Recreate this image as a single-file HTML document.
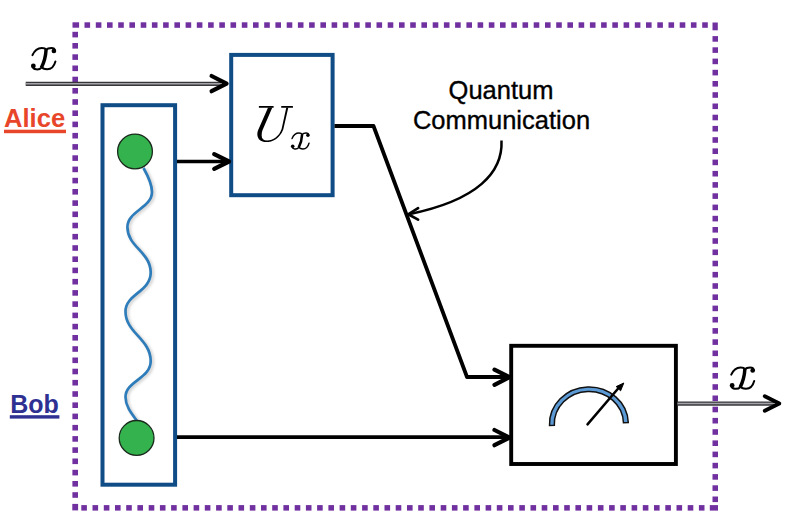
<!DOCTYPE html>
<html><head><meta charset="utf-8"><style>
html,body{margin:0;padding:0;background:#fff;width:808px;height:522px;overflow:hidden}
svg{display:block}
</style></head><body>
<svg width="808" height="522" viewBox="0 0 808 522">
<defs>
<filter id="sh" x="-50%" y="-10%" width="200%" height="120%"><feGaussianBlur stdDeviation="1.6"/></filter>
</defs>
<g>
<g fill="#7030A0"><rect x="84.5" y="22.3" width="5.6" height="5.5"/><rect x="95.8" y="22.3" width="5.6" height="5.5"/><rect x="107.0" y="22.3" width="5.6" height="5.5"/><rect x="118.2" y="22.3" width="5.6" height="5.5"/><rect x="129.4" y="22.3" width="5.6" height="5.5"/><rect x="140.7" y="22.3" width="5.6" height="5.5"/><rect x="151.9" y="22.3" width="5.6" height="5.5"/><rect x="163.1" y="22.3" width="5.6" height="5.5"/><rect x="174.4" y="22.3" width="5.6" height="5.5"/><rect x="185.6" y="22.3" width="5.6" height="5.5"/><rect x="196.8" y="22.3" width="5.6" height="5.5"/><rect x="208.1" y="22.3" width="5.6" height="5.5"/><rect x="219.3" y="22.3" width="5.6" height="5.5"/><rect x="230.5" y="22.3" width="5.6" height="5.5"/><rect x="241.8" y="22.3" width="5.6" height="5.5"/><rect x="253.0" y="22.3" width="5.6" height="5.5"/><rect x="264.2" y="22.3" width="5.6" height="5.5"/><rect x="275.4" y="22.3" width="5.6" height="5.5"/><rect x="286.7" y="22.3" width="5.6" height="5.5"/><rect x="297.9" y="22.3" width="5.6" height="5.5"/><rect x="309.1" y="22.3" width="5.6" height="5.5"/><rect x="320.4" y="22.3" width="5.6" height="5.5"/><rect x="331.6" y="22.3" width="5.6" height="5.5"/><rect x="342.8" y="22.3" width="5.6" height="5.5"/><rect x="354.1" y="22.3" width="5.6" height="5.5"/><rect x="365.3" y="22.3" width="5.6" height="5.5"/><rect x="376.5" y="22.3" width="5.6" height="5.5"/><rect x="387.7" y="22.3" width="5.6" height="5.5"/><rect x="399.0" y="22.3" width="5.6" height="5.5"/><rect x="410.2" y="22.3" width="5.6" height="5.5"/><rect x="421.4" y="22.3" width="5.6" height="5.5"/><rect x="432.7" y="22.3" width="5.6" height="5.5"/><rect x="443.9" y="22.3" width="5.6" height="5.5"/><rect x="455.1" y="22.3" width="5.6" height="5.5"/><rect x="466.4" y="22.3" width="5.6" height="5.5"/><rect x="477.6" y="22.3" width="5.6" height="5.5"/><rect x="488.8" y="22.3" width="5.6" height="5.5"/><rect x="500.0" y="22.3" width="5.6" height="5.5"/><rect x="511.3" y="22.3" width="5.6" height="5.5"/><rect x="522.5" y="22.3" width="5.6" height="5.5"/><rect x="533.7" y="22.3" width="5.6" height="5.5"/><rect x="545.0" y="22.3" width="5.6" height="5.5"/><rect x="556.2" y="22.3" width="5.6" height="5.5"/><rect x="567.4" y="22.3" width="5.6" height="5.5"/><rect x="578.6" y="22.3" width="5.6" height="5.5"/><rect x="589.9" y="22.3" width="5.6" height="5.5"/><rect x="601.1" y="22.3" width="5.6" height="5.5"/><rect x="612.3" y="22.3" width="5.6" height="5.5"/><rect x="623.6" y="22.3" width="5.6" height="5.5"/><rect x="634.8" y="22.3" width="5.6" height="5.5"/><rect x="646.0" y="22.3" width="5.6" height="5.5"/><rect x="657.3" y="22.3" width="5.6" height="5.5"/><rect x="668.5" y="22.3" width="5.6" height="5.5"/><rect x="679.7" y="22.3" width="5.6" height="5.5"/><rect x="690.9" y="22.3" width="5.6" height="5.5"/><rect x="702.2" y="22.3" width="5.6" height="5.5"/><rect x="72.5" y="22.3" width="6.6" height="5.4"/><rect x="712.5" y="22.5" width="5.3" height="7.8"/><rect x="709.8" y="505.1" width="8.2" height="5.5"/><rect x="72.3" y="503.9" width="5.8" height="6.5"/><rect x="712.5" y="36.1" width="5.5" height="5.6"/><rect x="712.5" y="47.3" width="5.5" height="5.6"/><rect x="712.5" y="58.6" width="5.5" height="5.6"/><rect x="712.5" y="69.8" width="5.5" height="5.6"/><rect x="712.5" y="81.0" width="5.5" height="5.6"/><rect x="712.5" y="92.2" width="5.5" height="5.6"/><rect x="712.5" y="103.5" width="5.5" height="5.6"/><rect x="712.5" y="114.7" width="5.5" height="5.6"/><rect x="712.5" y="125.9" width="5.5" height="5.6"/><rect x="712.5" y="137.2" width="5.5" height="5.6"/><rect x="712.5" y="148.4" width="5.5" height="5.6"/><rect x="712.5" y="159.6" width="5.5" height="5.6"/><rect x="712.5" y="170.9" width="5.5" height="5.6"/><rect x="712.5" y="182.1" width="5.5" height="5.6"/><rect x="712.5" y="193.3" width="5.5" height="5.6"/><rect x="712.5" y="204.6" width="5.5" height="5.6"/><rect x="712.5" y="215.8" width="5.5" height="5.6"/><rect x="712.5" y="227.0" width="5.5" height="5.6"/><rect x="712.5" y="238.2" width="5.5" height="5.6"/><rect x="712.5" y="249.5" width="5.5" height="5.6"/><rect x="712.5" y="260.7" width="5.5" height="5.6"/><rect x="712.5" y="271.9" width="5.5" height="5.6"/><rect x="712.5" y="283.2" width="5.5" height="5.6"/><rect x="712.5" y="294.4" width="5.5" height="5.6"/><rect x="712.5" y="305.6" width="5.5" height="5.6"/><rect x="712.5" y="316.9" width="5.5" height="5.6"/><rect x="712.5" y="328.1" width="5.5" height="5.6"/><rect x="712.5" y="339.3" width="5.5" height="5.6"/><rect x="712.5" y="350.5" width="5.5" height="5.6"/><rect x="712.5" y="361.8" width="5.5" height="5.6"/><rect x="712.5" y="373.0" width="5.5" height="5.6"/><rect x="712.5" y="384.2" width="5.5" height="5.6"/><rect x="712.5" y="395.5" width="5.5" height="5.6"/><rect x="712.5" y="406.7" width="5.5" height="5.6"/><rect x="712.5" y="417.9" width="5.5" height="5.6"/><rect x="712.5" y="429.2" width="5.5" height="5.6"/><rect x="712.5" y="440.4" width="5.5" height="5.6"/><rect x="712.5" y="451.6" width="5.5" height="5.6"/><rect x="712.5" y="462.8" width="5.5" height="5.6"/><rect x="712.5" y="474.1" width="5.5" height="5.6"/><rect x="712.5" y="485.3" width="5.5" height="5.6"/><rect x="712.5" y="496.5" width="5.5" height="5.6"/><rect x="81.3" y="505.1" width="5.6" height="5.5"/><rect x="92.5" y="505.1" width="5.6" height="5.5"/><rect x="103.8" y="505.1" width="5.6" height="5.5"/><rect x="115.0" y="505.1" width="5.6" height="5.5"/><rect x="126.2" y="505.1" width="5.6" height="5.5"/><rect x="137.4" y="505.1" width="5.6" height="5.5"/><rect x="148.7" y="505.1" width="5.6" height="5.5"/><rect x="159.9" y="505.1" width="5.6" height="5.5"/><rect x="171.1" y="505.1" width="5.6" height="5.5"/><rect x="182.4" y="505.1" width="5.6" height="5.5"/><rect x="193.6" y="505.1" width="5.6" height="5.5"/><rect x="204.8" y="505.1" width="5.6" height="5.5"/><rect x="216.1" y="505.1" width="5.6" height="5.5"/><rect x="227.3" y="505.1" width="5.6" height="5.5"/><rect x="238.5" y="505.1" width="5.6" height="5.5"/><rect x="249.8" y="505.1" width="5.6" height="5.5"/><rect x="261.0" y="505.1" width="5.6" height="5.5"/><rect x="272.2" y="505.1" width="5.6" height="5.5"/><rect x="283.4" y="505.1" width="5.6" height="5.5"/><rect x="294.7" y="505.1" width="5.6" height="5.5"/><rect x="305.9" y="505.1" width="5.6" height="5.5"/><rect x="317.1" y="505.1" width="5.6" height="5.5"/><rect x="328.4" y="505.1" width="5.6" height="5.5"/><rect x="339.6" y="505.1" width="5.6" height="5.5"/><rect x="350.8" y="505.1" width="5.6" height="5.5"/><rect x="362.1" y="505.1" width="5.6" height="5.5"/><rect x="373.3" y="505.1" width="5.6" height="5.5"/><rect x="384.5" y="505.1" width="5.6" height="5.5"/><rect x="395.7" y="505.1" width="5.6" height="5.5"/><rect x="407.0" y="505.1" width="5.6" height="5.5"/><rect x="418.2" y="505.1" width="5.6" height="5.5"/><rect x="429.4" y="505.1" width="5.6" height="5.5"/><rect x="440.7" y="505.1" width="5.6" height="5.5"/><rect x="451.9" y="505.1" width="5.6" height="5.5"/><rect x="463.1" y="505.1" width="5.6" height="5.5"/><rect x="474.4" y="505.1" width="5.6" height="5.5"/><rect x="485.6" y="505.1" width="5.6" height="5.5"/><rect x="496.8" y="505.1" width="5.6" height="5.5"/><rect x="508.0" y="505.1" width="5.6" height="5.5"/><rect x="519.3" y="505.1" width="5.6" height="5.5"/><rect x="530.5" y="505.1" width="5.6" height="5.5"/><rect x="541.7" y="505.1" width="5.6" height="5.5"/><rect x="553.0" y="505.1" width="5.6" height="5.5"/><rect x="564.2" y="505.1" width="5.6" height="5.5"/><rect x="575.4" y="505.1" width="5.6" height="5.5"/><rect x="586.6" y="505.1" width="5.6" height="5.5"/><rect x="597.9" y="505.1" width="5.6" height="5.5"/><rect x="609.1" y="505.1" width="5.6" height="5.5"/><rect x="620.3" y="505.1" width="5.6" height="5.5"/><rect x="631.6" y="505.1" width="5.6" height="5.5"/><rect x="642.8" y="505.1" width="5.6" height="5.5"/><rect x="654.0" y="505.1" width="5.6" height="5.5"/><rect x="665.3" y="505.1" width="5.6" height="5.5"/><rect x="676.5" y="505.1" width="5.6" height="5.5"/><rect x="687.7" y="505.1" width="5.6" height="5.5"/><rect x="698.9" y="505.1" width="5.6" height="5.5"/><rect x="72.4" y="31.8" width="5.6" height="5.6"/><rect x="72.4" y="43.0" width="5.6" height="5.6"/><rect x="72.4" y="54.3" width="5.6" height="5.6"/><rect x="72.4" y="65.5" width="5.6" height="5.6"/><rect x="72.4" y="76.7" width="5.6" height="5.6"/><rect x="72.4" y="88.0" width="5.6" height="5.6"/><rect x="72.4" y="99.2" width="5.6" height="5.6"/><rect x="72.4" y="110.4" width="5.6" height="5.6"/><rect x="72.4" y="121.6" width="5.6" height="5.6"/><rect x="72.4" y="132.9" width="5.6" height="5.6"/><rect x="72.4" y="144.1" width="5.6" height="5.6"/><rect x="72.4" y="155.3" width="5.6" height="5.6"/><rect x="72.4" y="166.6" width="5.6" height="5.6"/><rect x="72.4" y="177.8" width="5.6" height="5.6"/><rect x="72.4" y="189.0" width="5.6" height="5.6"/><rect x="72.4" y="200.3" width="5.6" height="5.6"/><rect x="72.4" y="211.5" width="5.6" height="5.6"/><rect x="72.4" y="222.7" width="5.6" height="5.6"/><rect x="72.4" y="233.9" width="5.6" height="5.6"/><rect x="72.4" y="245.2" width="5.6" height="5.6"/><rect x="72.4" y="256.4" width="5.6" height="5.6"/><rect x="72.4" y="267.6" width="5.6" height="5.6"/><rect x="72.4" y="278.9" width="5.6" height="5.6"/><rect x="72.4" y="290.1" width="5.6" height="5.6"/><rect x="72.4" y="301.3" width="5.6" height="5.6"/><rect x="72.4" y="312.6" width="5.6" height="5.6"/><rect x="72.4" y="323.8" width="5.6" height="5.6"/><rect x="72.4" y="335.0" width="5.6" height="5.6"/><rect x="72.4" y="346.2" width="5.6" height="5.6"/><rect x="72.4" y="357.5" width="5.6" height="5.6"/><rect x="72.4" y="368.7" width="5.6" height="5.6"/><rect x="72.4" y="379.9" width="5.6" height="5.6"/><rect x="72.4" y="391.2" width="5.6" height="5.6"/><rect x="72.4" y="402.4" width="5.6" height="5.6"/><rect x="72.4" y="413.6" width="5.6" height="5.6"/><rect x="72.4" y="424.9" width="5.6" height="5.6"/><rect x="72.4" y="436.1" width="5.6" height="5.6"/><rect x="72.4" y="447.3" width="5.6" height="5.6"/><rect x="72.4" y="458.5" width="5.6" height="5.6"/><rect x="72.4" y="469.8" width="5.6" height="5.6"/><rect x="72.4" y="481.0" width="5.6" height="5.6"/><rect x="72.4" y="492.2" width="5.6" height="5.6"/></g>
<!-- labels -->
<text x="4" y="126.6" font-family="Liberation Sans" font-weight="bold" font-size="25.6" fill="#E8462A">Alice</text>
<rect x="4" y="129.7" width="62" height="3.5" fill="#E8462A"/>
<text x="10.3" y="413.1" font-family="Liberation Sans" font-weight="bold" font-size="25" fill="#2E3192">Bob</text>
<rect x="9.8" y="415.2" width="49.6" height="3.4" fill="#2E3192"/>
<g transform="translate(25.2,40.5) scale(0.069)" fill="none" stroke="#000">
<path d="M105,213 C130,155 180,108 240,108 C275,108 295,120 302,135" stroke-width="29" stroke-linecap="round"/>
<path d="M303,130 C298,220 268,330 234,395" stroke-width="50"/>
<path d="M236,392 C215,418 185,420 160,418 C130,416 112,400 110,380" stroke-width="29"/>
<circle cx="118" cy="368" r="35" fill="#000" stroke="none"/>
<path d="M300,135 C320,115 350,108 380,108 C410,108 428,120 430,145" stroke-width="29"/>
<circle cx="416" cy="152" r="34" fill="#000" stroke="none"/>
<path d="M238,380 C250,410 285,418 320,418 C380,418 420,370 438,305" stroke-width="29" stroke-linecap="round"/>
</g>
<g transform="translate(724,360) scale(0.06897)" fill="none" stroke="#000">
<path d="M105,213 C130,155 180,108 240,108 C275,108 295,120 302,135" stroke-width="29" stroke-linecap="round"/>
<path d="M303,130 C298,220 268,330 234,395" stroke-width="50"/>
<path d="M236,392 C215,418 185,420 160,418 C130,416 112,400 110,380" stroke-width="29"/>
<circle cx="118" cy="368" r="35" fill="#000" stroke="none"/>
<path d="M300,135 C320,115 350,108 380,108 C410,108 428,120 430,145" stroke-width="29"/>
<circle cx="416" cy="152" r="34" fill="#000" stroke="none"/>
<path d="M238,380 C250,410 285,418 320,418 C380,418 420,370 438,305" stroke-width="29" stroke-linecap="round"/>
</g>
<!-- pair box -->
<rect x="102.5" y="105.2" width="72.6" height="379.5" fill="none" stroke="#104C86" stroke-width="4"/>
<!-- wave shadow + wave -->
<path d="M143.5,168 C148,176 152,184 152,192 C152,208 127.4,211 127.4,227 C127.4,247 150.7,252 150.7,272.5 C150.7,292 125.5,294 125.5,311.4 C125.5,333 150.7,339 150.7,361 C150.7,379 125.5,381 125.5,397 C125.5,406 131,413 137,421" fill="none" stroke="#000" stroke-opacity="0.22" stroke-width="2.6" transform="translate(1.8,1.2)" filter="url(#sh)"/>
<path d="M143.5,168 C148,176 152,184 152,192 C152,208 127.4,211 127.4,227 C127.4,247 150.7,252 150.7,272.5 C150.7,292 125.5,294 125.5,311.4 C125.5,333 150.7,339 150.7,361 C150.7,379 125.5,381 125.5,397 C125.5,406 131,413 137,421" fill="none" stroke="#2E7DBA" stroke-width="2.7"/>
<circle cx="135" cy="151.5" r="17.4" fill="#34B24E" stroke="#1a2a1c" stroke-width="1.3"/>
<circle cx="136.6" cy="437.9" r="17.4" fill="#34B24E" stroke="#1a2a1c" stroke-width="1.3"/>
<!-- U box -->
<rect x="231.2" y="54.9" width="101.4" height="140.3" fill="none" stroke="#104C86" stroke-width="4"/>
<g transform="translate(252,100) scale(0.09195)">
<path d="M75,75 H235 M318,75 H445" stroke="#000" stroke-width="19" fill="none"/>
<path d="M175,82 L66,330 C56,355 56,380 62,400 C75,440 110,458 155,458 C225,458 300,420 340,320 L395,82 L373,82 L322,315 C295,395 230,440 165,440 C125,440 105,420 105,385 C105,365 108,345 114,330 L221,82 Z" fill="#000"/>
</g>
<g transform="translate(286.7,127.6) scale(0.051)" fill="none" stroke="#000">
<path d="M105,213 C130,155 180,108 240,108 C275,108 295,120 302,135" stroke-width="29" stroke-linecap="round"/>
<path d="M303,130 C298,220 268,330 234,395" stroke-width="50"/>
<path d="M236,392 C215,418 185,420 160,418 C130,416 112,400 110,380" stroke-width="29"/>
<circle cx="118" cy="368" r="35" fill="#000" stroke="none"/>
<path d="M300,135 C320,115 350,108 380,108 C410,108 428,120 430,145" stroke-width="29"/>
<circle cx="416" cy="152" r="34" fill="#000" stroke="none"/>
<path d="M238,380 C250,410 285,418 320,418 C380,418 420,370 438,305" stroke-width="29" stroke-linecap="round"/>
</g>
<!-- measure box -->
<rect x="511.2" y="345.8" width="164.7" height="118.2" fill="none" stroke="#000" stroke-width="3.9"/>
<!-- meter -->
<path d="M549.5,424 A39.4,37 0 0 1 628.3,424 L623.5,424 A34.6,32.6 0 0 0 554.3,424 Z" fill="#5C9AD6" stroke="#111" stroke-width="1.5" transform="rotate(-2 588.9 424)"/>
<path d="M587.5,424.4 L619,387.5" stroke="#000" stroke-width="2.5" fill="none" stroke-linecap="round"/>
<path d="M623.8,383 L616.2,386.6 L620.6,390.8 Z" fill="#000" stroke="#000" stroke-width="1" stroke-linejoin="round"/>
<!-- double arrows -->
<path d="M25.7,83.8 H221" stroke="#38383c" stroke-width="4.2" fill="none"/>
<path d="M25.7,83.8 H221" stroke="#a4a4a8" stroke-width="1.5" fill="none"/>
<path d="M211.6,76.0 L226.6,83.6 L211.6,91.2" stroke="#000" stroke-width="4.2" fill="none" stroke-linecap="round" stroke-linejoin="round"/>
<path d="M677.5,403.6 H774" stroke="#38383c" stroke-width="4.1" fill="none"/>
<path d="M677.5,403.6 H774" stroke="#a4a4a8" stroke-width="1.5" fill="none"/>
<path d="M764.8,396.2 L779.3,403.5 L764.8,410.8" stroke="#000" stroke-width="3.9" fill="none" stroke-linecap="round" stroke-linejoin="round"/>
<!-- black arrows -->
<path d="M177,161.5 H228" stroke="#000" stroke-width="3.7" fill="none"/>
<path d="M214.2,154.1 L229.0,161.5 L214.2,168.9" stroke="#000" stroke-width="4.2" fill="none" stroke-linecap="round" stroke-linejoin="round"/>
<path d="M334.5,126 H373.5 L467,377 H508" stroke="#000" stroke-width="3.8" fill="none" stroke-linejoin="round"/>
<path d="M494.5,369.6 L509.5,377.2 L494.5,384.8" stroke="#000" stroke-width="4.2" fill="none" stroke-linecap="round" stroke-linejoin="round"/>
<path d="M177,437.2 H508" stroke="#000" stroke-width="3.8" fill="none"/>
<path d="M494.5,430.0 L509.5,437.6 L494.5,445.2" stroke="#000" stroke-width="4.2" fill="none" stroke-linecap="round" stroke-linejoin="round"/>
<!-- quantum text -->
<text font-family="Liberation Sans" font-size="25.5" fill="#000" stroke="#000" stroke-width="0.35" text-anchor="middle"><tspan x="501" y="98.5">Quantum</tspan><tspan x="501.5" y="128.8">Communication</tspan></text>
<path d="M501.5,140.5 C503,172 478,200 409,214.2" fill="none" stroke="#000" stroke-width="2.5"/>
<path d="M418.1,208.2 L408.2,214.3 L418.1,219.6" stroke="#000" stroke-width="2.7" fill="none" stroke-linecap="round" stroke-linejoin="round"/>
</g>
</svg>
</body></html>
